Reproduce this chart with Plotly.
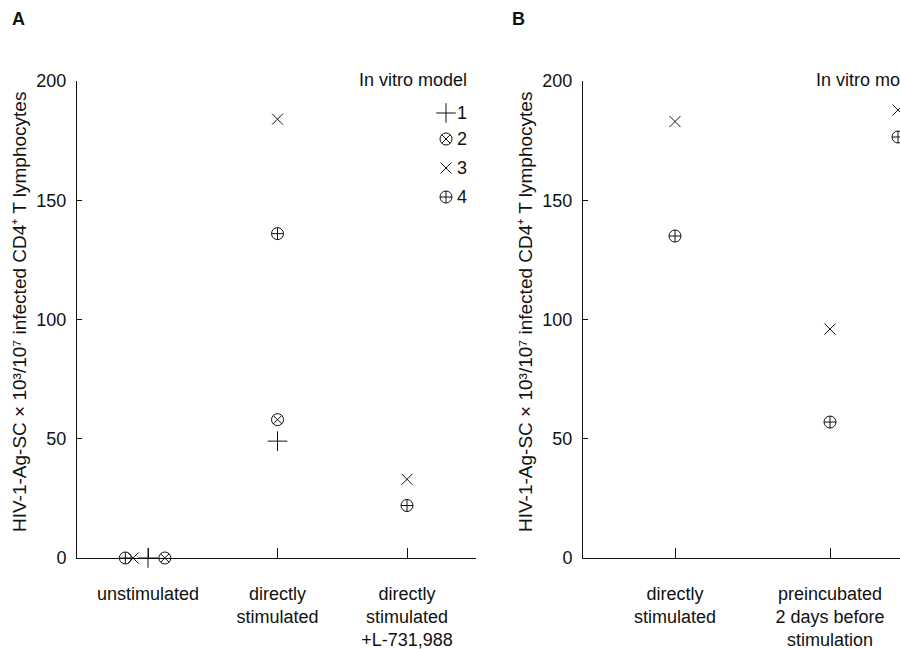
import plotly.graph_objects as go

# ---------------- data ----------------
MODELS = ["1", "2", "3", "4"]
CATS_A = ["unstimulated", "directly<br>stimulated", "directly<br>stimulated<br>+L-731,988"]
CATS_B = ["directly<br>stimulated", "preincubated<br>2 days before<br>stimulation"]

# Panel A values per in vitro model (None = not tested)
A_M1 = [0, 49, None]
A_M2 = [0, 58, None]
A_M3 = [0, 184, 33]
A_M4 = [0, 136, 22]

# Panel B values (models 3 and 4)
B_M3 = [183, 96]
B_M4 = [135, 57]

Y_TICKS = [0, 50, 100, 150, 200]
Y_TITLE = "HIV-1-Ag-SC × 10³/10⁷ infected CD4⁺ T lymphocytes"
LEGEND_TITLE = "In vitro model"

# ---------------- style ----------------
W, H = 900, 649
M_T, M_B = 81, 91
FONT = "Liberation Sans, Arial, Helvetica, sans-serif"
FS = 18
INK = "#111111"

SYMBOL = {"1": "cross-thin-open", "2": "circle-x-open", "3": "x-thin-open", "4": "circle-cross-open"}
MSIZE = {"1": 14, "2": 12, "3": 11, "4": 12}
# horizontal jitter used at the crowded 'unstimulated' position only
JITTER_A = {"1": [0.0, 0, 0], "2": [0.13, 0, 0], "3": [-0.115, 0, 0], "4": [-0.175, 0, 0]}

A_VALUES = {"1": A_M1, "2": A_M2, "3": A_M3, "4": A_M4}
B_VALUES = {"3": B_M3, "4": B_M4}


def px_x(p):
    return p / W


def px_y(p):
    return (H - M_B - p) / (H - M_T - M_B)


fig = go.Figure()

for m in MODELS:
    vals = A_VALUES[m]
    xs = [i + JITTER_A[m][i] for i in range(len(vals))]
    fig.add_trace(go.Scatter(
        x=xs, y=vals, mode="markers", name=m, showlegend=False, cliponaxis=False,
        marker=dict(symbol=SYMBOL[m], size=MSIZE[m], color=INK,
                    line=dict(width=1, color=INK)),
        xaxis="x", yaxis="y"))

for m, vals in B_VALUES.items():
    fig.add_trace(go.Scatter(
        x=list(range(len(vals))), y=vals, mode="markers", name=m, showlegend=False,
        cliponaxis=False,
        marker=dict(symbol=SYMBOL[m], size=MSIZE[m], color=INK,
                    line=dict(width=1, color=INK)),
        xaxis="x2", yaxis="y2"))

# legend keys (drawn on a hidden axis pair spanning the page)
LEG_A_X = 446
LEG_A_Y = [113, 139, 168, 197]
LEG_B_X = 898
LEG_B_Y = [110, 137]
for m, yy in zip(MODELS, LEG_A_Y):
    fig.add_trace(go.Scatter(
        x=[px_x(LEG_A_X)], y=[px_y(yy)], mode="markers", showlegend=False, cliponaxis=False,
        marker=dict(symbol=SYMBOL[m], size=MSIZE[m], color=INK, line=dict(width=1, color=INK)),
        xaxis="x3", yaxis="y3", hoverinfo="skip"))
for m, yy in zip(["3", "4"], LEG_B_Y):
    fig.add_trace(go.Scatter(
        x=[px_x(LEG_B_X)], y=[px_y(yy)], mode="markers", showlegend=False, cliponaxis=False,
        marker=dict(symbol=SYMBOL[m], size=MSIZE[m], color=INK, line=dict(width=1, color=INK)),
        xaxis="x3", yaxis="y3", hoverinfo="skip"))

annotations = []
for m, yy in zip(MODELS, LEG_A_Y):
    annotations.append(dict(text=m, x=px_x(LEG_A_X + 9), y=px_y(yy), xref="paper", yref="paper",
                            xanchor="left", yanchor="middle", showarrow=False))
for m, yy in zip(["3", "4"], LEG_B_Y):
    annotations.append(dict(text=m, x=px_x(LEG_B_X + 9), y=px_y(yy), xref="paper", yref="paper",
                            xanchor="left", yanchor="middle", showarrow=False))
annotations.append(dict(text=LEGEND_TITLE, x=px_x(357), y=px_y(80), xref="paper", yref="paper",
                        xanchor="left", yanchor="middle", showarrow=False))
annotations.append(dict(text=LEGEND_TITLE, x=px_x(814), y=px_y(80), xref="paper", yref="paper",
                        xanchor="left", yanchor="middle", showarrow=False))
# y-axis titles
for cx in (19, 525):
    annotations.append(dict(text=Y_TITLE, x=px_x(cx), y=px_y(312), xref="paper", yref="paper",
                            xanchor="center", yanchor="middle", textangle=-90, showarrow=False,
                            font=dict(size=19)))
# panel letters
for lab, lx in (("A", 10), ("B", 510)):
    annotations.append(dict(text="<b>" + lab + "</b>", x=px_x(lx), y=px_y(19), xref="paper",
                            yref="paper", xanchor="left", yanchor="middle", showarrow=False))

# axis geometry
A_L, A_R = 77, 476
B_L, B_R = 583, 900
A_T0, A_T2 = 148, 407
A_SP = (A_T2 - A_T0) / 2
B_T0, B_T1 = 675, 830
B_SP = B_T1 - B_T0

xcommon = dict(showline=True, linecolor=INK, linewidth=1, ticks="inside", ticklen=10,
               tickcolor=INK, tickwidth=1, showgrid=False, zeroline=False,
               ticklabelstandoff=19, tickfont=dict(size=FS, color=INK, family=FONT))
ycommon = dict(showline=True, linecolor=INK, linewidth=1, ticks="inside", ticklen=5,
               tickcolor=INK, tickwidth=1, showgrid=False, zeroline=False, range=[0, 200],
               tickvals=Y_TICKS, ticklabelstandoff=6,
               tickfont=dict(size=FS, color=INK, family=FONT))

fig.update_layout(
    width=W, height=H,
    margin=dict(l=0, r=0, t=M_T, b=M_B, autoexpand=False),
    paper_bgcolor="white", plot_bgcolor="rgba(0,0,0,0)",
    font=dict(family=FONT, size=FS, color=INK),
    showlegend=False,
    xaxis=dict(domain=[A_L / W, A_R / W], anchor="y",
               range=[(A_L - A_T0) / A_SP, (A_R - A_T0) / A_SP],
               tickvals=list(range(len(CATS_A))), ticktext=CATS_A, **xcommon),
    yaxis=dict(domain=[0, 1], anchor="x", **ycommon),
    xaxis2=dict(domain=[B_L / W, B_R / W], anchor="y2",
                range=[(B_L - B_T0) / B_SP, (B_R - B_T0) / B_SP],
                tickvals=list(range(len(CATS_B))), ticktext=CATS_B, **xcommon),
    yaxis2=dict(domain=[0, 1], anchor="x2", **ycommon),
    xaxis3=dict(domain=[0, 1], range=[0, 1], visible=False, anchor="y3"),
    yaxis3=dict(domain=[0, 1], range=[0, 1], visible=False, anchor="x3"),
    annotations=annotations,
)

fig.write_html("out.html")
